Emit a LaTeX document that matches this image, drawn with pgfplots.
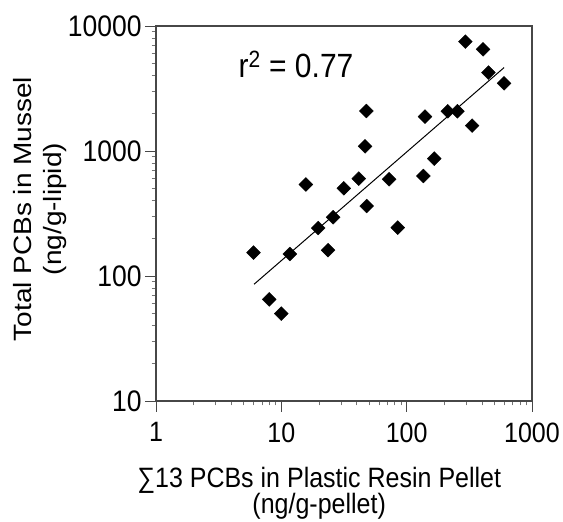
\documentclass[border=0pt]{standalone}
\usepackage{fontspec}
\setmainfont{Liberation Sans}
\usepackage{graphicx}
\usepackage{pgfplots}
\pgfplotsset{compat=1.18}
\newcommand{\vs}[1]{\scalebox{1}[1.12]{#1}}
\newcommand{\hs}[1]{\scalebox{1.12}[1]{#1}}
\begin{document}
\fontsize{25}{30}\selectfont
\begin{tikzpicture}
\begin{axis}[
  scale only axis,
  width=376pt, height=375pt,
  xmode=log, ymode=log,
  xmin=1, xmax=1000, ymin=10, ymax=10000,
  axis line style={draw=black!72, line width=1.2pt},
  tick align=outside,
  xtick pos=bottom, ytick pos=left,
  major tick length=11pt, minor tick length=4.5pt,
  every tick/.style={black!72, line width=0.9pt},
  every minor tick/.style={black!55, line width=0.6pt},
  xtick={1,10,100,1000}, xticklabels={\vs{1},\vs{10},\vs{100},\vs{1000}},
  ytick={10,100,1000,10000}, yticklabels={\vs{10},\vs{100},\vs{1000},\vs{10000}},
  minor xtick={2,3,4,5,6,7,8,9,20,30,40,50,60,70,80,90,200,300,400,500,600,700,800,900},
  minor ytick={20,30,40,50,60,70,80,90,200,300,400,500,600,700,800,900,2000,3000,4000,5000,6000,7000,8000,9000},
  /pgf/number format/assume math mode=true,
  xticklabel style={yshift=-2pt, font=\fontsize{25}{30}\selectfont},
  yticklabel style={xshift=5pt, font=\fontsize{26.5}{30}\selectfont},
  xlabel={\vs{\begin{tabular}{@{}c@{}}\char"2211 13 PCBs in Plastic Resin Pellet\\[-6.3pt](ng/g-pellet)\end{tabular}}},
  xlabel style={at={(axis description cs:0.434,-0.1667)}, anchor=north, inner sep=0pt, font=\fontsize{25}{30}\selectfont},
  ylabel={\hs{\begin{tabular}{@{}c@{}}Total PCBs in Mussel\\(ng/g-lipid)\end{tabular}}},
  ylabel style={at={(axis description cs:-0.3085,0.512)}, anchor=center, inner sep=0pt, font=\fontsize{25}{30}\selectfont},
]
\addplot[only marks, mark=square*, mark size=4.9pt, mark options={rotate=45}, black] coordinates {
(6.0,154) (8.0,65) (10,50) (11.7,150) (15.7,540) (19.7,242) (23.6,161)
(25.9,295) (31.5,503) (41.5,601) (46.6,1090) (47.7,2089) (48,363)
(72.4,594) (84.9,244) (136,631) (140,1884) (166,869) (213,2078)
(254,2078) (294,7500) (333,1596) (407,6510) (449,4240) (599,3480)
};
\addplot[black, line width=1pt] coordinates {(6.06,85.9) (599,4650)};
\node[anchor=base west, inner sep=0pt, font=\fontsize{30}{34}\selectfont] at (axis cs:4.55,3900) {\vs{r\textsuperscript{2} = 0.77}};
\end{axis}
\pgfresetboundingbox
\useasboundingbox (-156pt,-121pt) rectangle (407pt,401pt);
\end{tikzpicture}
\end{document}
